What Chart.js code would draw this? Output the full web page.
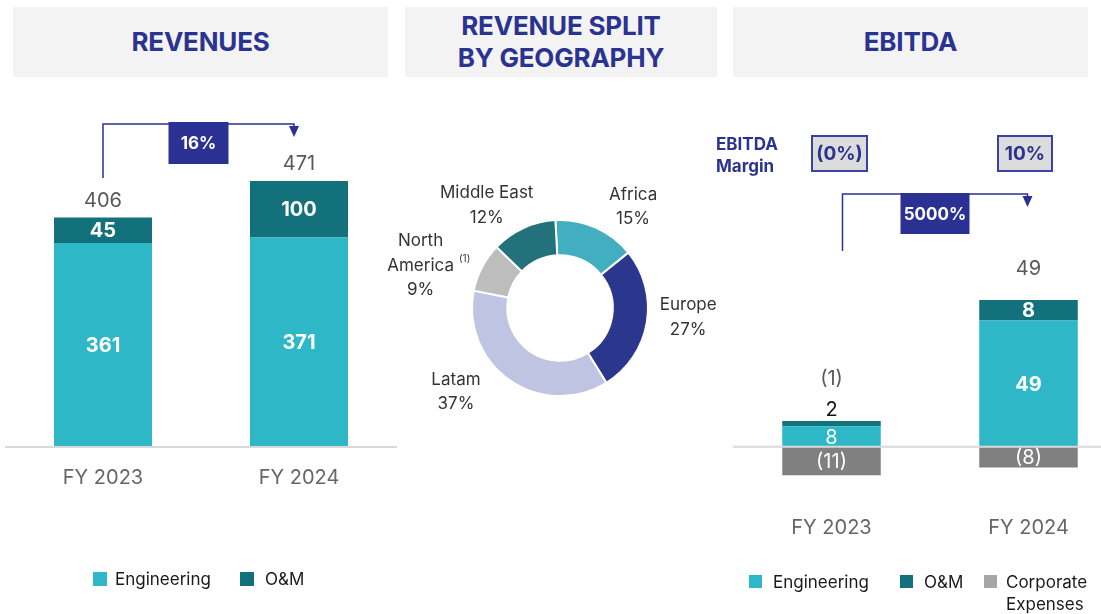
<!DOCTYPE html>
<html>
<head>
<meta charset="utf-8">
<script src="https://cdn.jsdelivr.net/npm/chart.js@4.4.1/dist/chart.umd.min.js"></script>
<style>
  html, body { margin: 0; padding: 0; width: 1101px; height: 614px; overflow: hidden; background: #fff; font-family: Inter, sans-serif; }
  .hdr { position: absolute; top: 7px; height: 70px; background: #f3f3f3; color: #2b3391; font-weight: 700; font-size: 26px; line-height: 32px; letter-spacing: -0.2px; display: flex; align-items: center; justify-content: center; text-align: center; }
  canvas { position: absolute; top: 0; }
  .sw { position: absolute; }
  .lg { position: absolute; font-size: 17px; line-height: 22px; color: #1a1a1a; }
  .mlabel { position: absolute; left: 716px; top: 133px; font-size: 17px; line-height: 22px; font-weight: 700; color: #2b3391; }
  .mbox { position: absolute; top: 135px; height: 37px; box-sizing: border-box; border: 2px solid #3b40a4; background: #dcdcdc; color: #2b3391; font-weight: 700; font-size: 19px; display: flex; align-items: center; justify-content: center; }
</style>
</head>
<body>
<div class="hdr" style="left:13px;width:375px;">REVENUES</div>
<div class="hdr" style="left:405px;width:312px;">REVENUE SPLIT<br>BY GEOGRAPHY</div>
<div class="hdr" style="left:733px;width:355px;">EBITDA</div>

<canvas id="revChart" width="400" height="614" style="left:0"></canvas>
<canvas id="geoChart" width="360" height="320" style="left:380px;top:148px"></canvas>
<canvas id="ebitdaChart" width="395" height="614" style="left:733px"></canvas>

<div class="mlabel">EBITDA<br>Margin</div>
<div class="mbox" id="margin0" style="left:811px;width:57px;"></div>
<div class="mbox" id="margin1" style="left:997px;width:56px;"></div>

<div id="revLegend"></div>
<div id="ebitdaLegend"></div>

<script>
// --- Data ---
const years = ['FY 2023', 'FY 2024'];
const revEngineering = [361, 371];
const revOM = [45, 100];

const geoLabels = ['Africa', 'Europe', 'Latam', 'North America', 'Middle East'];
const geoShares = [15, 27, 37, 9, 12];

const ebitdaEngineering = [8, 49];
const ebitdaOM = [2, 8];
const ebitdaCorporate = [-11, -8];

// --- Colours ---
const C_ENG = '#2db7c7';
const C_OM = '#12717a';
const C_CORP = '#808080';
const C_CORP_LEGEND = '#a6a6a6';
const NAVY = '#2b3192';
const GEO_COLORS = ['#41afc0', '#2b378c', '#bec4e2', '#bdbdbd', '#23717a'];

const fmt = (v) => v < 0 ? `(${Math.abs(v)})` : `${v}`;
const sumAt = (chart, i) => chart.data.datasets.reduce((s, ds) => s + ds.data[i], 0);

// --- Plugins ---

const barLabels = {
  id: 'barLabels',
  afterDatasetsDraw(chart, args, o) {
    const ctx = chart.ctx;
    const ca = chart.chartArea;
    const y0 = chart.scales.y.getPixelForValue(0);
    ctx.save();
    ctx.strokeStyle = '#d9d9d9';
    ctx.lineWidth = 2;
    ctx.beginPath();
    ctx.moveTo(ca.left, y0);
    ctx.lineTo(ca.right, y0);
    ctx.stroke();

    ctx.textAlign = 'center';
    ctx.textBaseline = 'middle';
    chart.data.labels.forEach((lab, i) => {
      let top = y0, x = 0;
      chart.data.datasets.forEach((ds, d) => {
        const el = chart.getDatasetMeta(d).data[i];
        x = el.x;
        if (ds.data[i] > 0) top = Math.min(top, el.y);
      });
      let smallAbove = false;
      chart.data.datasets.forEach((ds, d) => {
        const el = chart.getDatasetMeta(d).data[i];
        const v = ds.data[i];
        const h = Math.abs(el.base - el.y);
        if (h >= o.minInside) {
          ctx.fillStyle = '#fff';
          ctx.font = `${o.bold[i] && v > 0 ? 700 : 400} ${o.size}px Inter`;
          ctx.fillText(fmt(v), x, (el.y + el.base) / 2 + 1);
        } else {
          ctx.fillStyle = '#111';
          ctx.font = `400 ${o.size}px Inter`;
          ctx.fillText(fmt(v), x, top - o.smallGap);
          smallAbove = true;
        }
      });
      ctx.fillStyle = '#595959';
      ctx.font = `400 ${o.size}px Inter`;
      ctx.fillText(fmt(sumAt(chart, i)), x, top - (smallAbove ? o.smallGap : 0) - o.totalGap);

      ctx.fillStyle = '#666';
      ctx.font = '400 20px Inter';
      ctx.fillText(lab, x, o.catY);
    });
    ctx.restore();
  }
};

const growthArrow = {
  id: 'growthArrow',
  afterDraw(chart, args, o) {
    const ctx = chart.ctx;
    const els = chart.getDatasetMeta(0).data;
    const x1 = els[0].x + o.dxStart;
    const x2 = els[1].x + o.dxEnd;
    const a = sumAt(chart, 0), b = sumAt(chart, 1);
    const pct = Math.round(Math.abs((b - a) / a) * 100);
    ctx.save();
    ctx.strokeStyle = NAVY;
    ctx.fillStyle = NAVY;
    ctx.lineWidth = 1.5;
    ctx.beginPath();
    ctx.moveTo(x1, o.startY);
    ctx.lineTo(x1, o.lineY);
    ctx.lineTo(x2, o.lineY);
    ctx.lineTo(x2, o.lineY + 4);
    ctx.stroke();
    ctx.beginPath();
    ctx.moveTo(x2 - 5, o.lineY + 2);
    ctx.lineTo(x2 + 5, o.lineY + 2);
    ctx.lineTo(x2, o.lineY + 13);
    ctx.closePath();
    ctx.fill();
    const cx = (x1 + x2) / 2;
    ctx.fillRect(cx - o.boxW / 2, o.boxTop, o.boxW, o.boxH);
    ctx.fillStyle = '#fff';
    ctx.font = '700 17px Inter';
    ctx.textAlign = 'center';
    ctx.textBaseline = 'middle';
    ctx.fillText(`${pct}%`, cx, o.boxTop + o.boxH / 2 + 1);
    ctx.restore();
  }
};

const geoLabelPlugin = {
  id: 'geoLabels',
  afterDraw(chart, args, o) {
    const ctx = chart.ctx;
    const meta = chart.getDatasetMeta(0);
    ctx.save();
    ctx.fillStyle = '#333';
    ctx.font = '400 17px Inter';
    ctx.textAlign = 'center';
    ctx.textBaseline = 'middle';
    meta.data.forEach((arc, i) => {
      const mid = (arc.startAngle + arc.endAngle) / 2;
      const r = arc.outerRadius + o.gap;
      const [dx, dy] = o.nudge[i];
      const cx = arc.x + Math.cos(mid) * r + dx;
      const cy = arc.y + Math.sin(mid) * r + dy;
      const name = chart.data.labels[i];
      const lines = name === 'North America' ? ['North', 'America'] : [name];
      lines.push(`${chart.data.datasets[0].data[i]}%`);
      const y = cy - (lines.length - 1) * o.lineH / 2;
      lines.forEach((t, k) => ctx.fillText(t, cx, y + k * o.lineH));
      if (o.notes[i]) {
        const w = ctx.measureText(lines[lines.length - 2]).width;
        ctx.font = '400 10px Inter';
        ctx.textAlign = 'left';
        ctx.fillText(o.notes[i], cx + w / 2 + 5, y + (lines.length - 2) * o.lineH - 7);
        ctx.font = '400 17px Inter';
        ctx.textAlign = 'center';
      }
    });
    ctx.restore();
  }
};

// --- Revenues ---

const revChart = new Chart(document.getElementById('revChart'), {
  type: 'bar',
  data: {
    labels: years,
    datasets: [
      { label: 'Engineering', data: revEngineering, backgroundColor: C_ENG },
      { label: 'O&M', data: revOM, backgroundColor: C_OM }
    ]
  },
  options: {
    responsive: false,
    animation: false,
    layout: { padding: { left: 5, right: 3, top: 108, bottom: 167 } },
    barPercentage: 0.5,
    categoryPercentage: 1,
    scales: {
      x: { display: false, stacked: true },
      y: { display: false, stacked: true, min: 0, max: 600 }
    },
    plugins: {
      legend: { display: false },
      tooltip: { enabled: false },
      barLabels: { minInside: 14, bold: [true, true], size: 20, smallGap: 11, totalGap: 17, catY: 478 },
      growthArrow: { dxStart: 0, dxEnd: -5, startY: 178, lineY: 124, boxW: 60, boxH: 42, boxTop: 122 }
    }
  },
  plugins: [barLabels, growthArrow]
});

// --- Geography ---

new Chart(document.getElementById('geoChart'), {
  type: 'doughnut',
  data: {
    labels: geoLabels,
    datasets: [{ data: geoShares, backgroundColor: GEO_COLORS, borderColor: '#fff', borderWidth: 2 }]
  },
  options: {
    responsive: false,
    animation: false,
    rotation: -3,
    cutout: '60%',
    layout: { padding: { left: 91, right: 91, top: 71, bottom: 71 } },
    plugins: {
      legend: { display: false },
      tooltip: { enabled: false },
      geoLabels: {
        gap: 40,
        lineH: 24.5,
        notes: { 3: '(1)' },
        nudge: [[21, 16], [2, -12], [-31, -21], [-26, 17], [-20, 14]]
      }
    }
  },
  plugins: [geoLabelPlugin]
});

// --- EBITDA ---

const ebitdaChart = new Chart(document.getElementById('ebitdaChart'), {
  type: 'bar',
  data: {
    labels: years,
    datasets: [
      { label: 'Engineering', data: ebitdaEngineering, backgroundColor: C_ENG },
      { label: 'O&M', data: ebitdaOM, backgroundColor: C_OM },
      { label: 'Corporate Expenses', data: ebitdaCorporate, backgroundColor: C_CORP }
    ]
  },
  options: {
    responsive: false,
    animation: false,
    layout: { padding: { left: 0, right: 1, top: 189, bottom: 64 } },
    barPercentage: 0.5,
    categoryPercentage: 1,
    scales: {
      x: { display: false, stacked: true },
      y: { display: false, stacked: true, min: -40, max: 100 }
    },
    plugins: {
      legend: { display: false },
      tooltip: { enabled: false },
      barLabels: { minInside: 14, bold: [false, true], size: 20, smallGap: 11, totalGap: 31, catY: 528 },
      growthArrow: { dxStart: 11, dxEnd: -1, startY: 251, lineY: 194, boxW: 69, boxH: 41, boxTop: 193 }
    }
  },
  plugins: [barLabels, growthArrow]
});

// --- Margins ---

[0, 1].forEach(i => {
  const rev = revEngineering[i] + revOM[i];
  const e = ebitdaEngineering[i] + ebitdaOM[i] + ebitdaCorporate[i];
  const m = e / rev * 100;
  const txt = `${Math.abs(Math.round(m))}%`;
  document.getElementById('margin' + i).innerText = m < 0 ? `(${txt})` : txt;
});

// --- Legends ---

function buildLegend(el, items) {
  el.innerHTML = items.map(([label, color, sx, tx, y, size]) => `
    <div class="sw" style="left:${sx}px;top:${y}px;width:${size}px;height:${size}px;background:${color}"></div>
    <div class="lg" style="left:${tx}px;top:${y + size / 2 - 11}px;width:95px">${label}</div>
  `).join('');
}

buildLegend(document.getElementById('revLegend'), [
  ['Engineering', C_ENG, 93, 115, 572, 14],
  ['O&amp;M', C_OM, 240, 265, 572, 14]
]);
buildLegend(document.getElementById('ebitdaLegend'), [
  ['Engineering', C_ENG, 749, 773, 575, 13],
  ['O&amp;M', C_OM, 900, 924, 575, 13],
  ['Corporate Expenses', C_CORP_LEGEND, 984, 1006, 575, 13]
]);
</script>
</body>
</html>
